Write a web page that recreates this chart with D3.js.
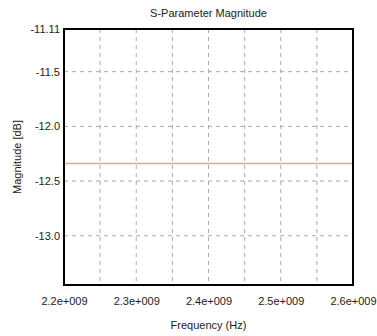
<!DOCTYPE html>
<html>
<head>
<meta charset="utf-8">
<script src="https://cdn.jsdelivr.net/npm/d3@7"></script>
<style>
    body { margin: 0; background: #fff; }
    text { font-family: "Liberation Sans", Arial, sans-serif; font-size: 11px; fill: #222; }
</style>
</head>
<body>
<svg id="chart" width="377" height="336"></svg>
<script>
/* Chart values */
let freqDomain = [2.2e9, 2.6e9];
let magDomain = [-13.45, -11.11];
let xTicks = [2.2e9, 2.3e9, 2.4e9, 2.5e9, 2.6e9];
let xGrid = [2.25e9, 2.3e9, 2.35e9, 2.4e9, 2.45e9, 2.5e9, 2.55e9];
let yTicks = [-11.11, -11.5, -12.0, -12.5, -13.0];
let yGrid = [-11.5, -12.0, -12.5, -13.0];
let freq = [2.2e9, 2.3e9, 2.4e9, 2.5e9, 2.6e9];
let mag = [-12.34, -12.34, -12.34, -12.34, -12.34];

let margin = {top: 29, right: 24, bottom: 51, left: 64};
let width = 377 - margin.left - margin.right;
let height = 336 - margin.top - margin.bottom;

let svg = d3.select('#chart');
let g = svg.append('g').attr('transform', `translate(${margin.left},${margin.top})`);

let x = d3.scaleLinear().domain(freqDomain).range([0, width]);
let y = d3.scaleLinear().domain(magDomain).range([height, 0]);

/* Dashed grid */
g.selectAll('.vgrid').data(xGrid).enter().append('line')
    .attr('x1', d => x(d)).attr('x2', d => x(d))
    .attr('y1', 0).attr('y2', height)
    .attr('stroke', '#aaa').attr('stroke-dasharray', '4,4');
g.selectAll('.hgrid').data(yGrid).enter().append('line')
    .attr('x1', 0).attr('x2', width)
    .attr('y1', d => y(d)).attr('y2', d => y(d))
    .attr('stroke', '#aaa').attr('stroke-dasharray', '4,4');

/* Data line */
g.append('path')
    .datum(freq.map((f, i) => [f, mag[i]]))
    .attr('fill', 'none')
    .attr('stroke', '#f49a9a')
    .attr('stroke-width', 1.5)
    .attr('d', d3.line().x(d => x(d[0])).y(d => y(d[1])));

/* Frame */
g.append('rect')
    .attr('x', 0).attr('y', 0)
    .attr('width', width).attr('height', height)
    .attr('fill', 'none').attr('stroke', '#000').attr('stroke-width', 2);

/* Axes: labels only, the frame draws the lines */
let xAxis = g.append('g')
    .attr('transform', `translate(0,${height})`)
    .call(d3.axisBottom(x).tickValues(xTicks).tickSize(0).tickPadding(12)
        .tickFormat(d => (d / 1e9).toFixed(1) + 'e+009'));
xAxis.select('.domain').remove();

let yAxis = g.append('g')
    .call(d3.axisLeft(y).tickValues(yTicks).tickSize(0).tickPadding(4)
        .tickFormat(d => d === -11.11 ? '-11.11' : d.toFixed(1)));
yAxis.select('.domain').remove();

svg.selectAll('.tick text')
    .style('font-family', '"Liberation Sans", Arial, sans-serif')
    .style('font-size', '11px')
    .attr('fill', '#222');

/* Titles */
svg.append('text')
    .attr('x', margin.left + width / 2).attr('y', 17)
    .attr('text-anchor', 'middle')
    .text('S-Parameter Magnitude');
svg.append('text')
    .attr('x', margin.left + width / 2).attr('y', 329)
    .attr('text-anchor', 'middle')
    .text('Frequency (Hz)');
svg.append('text')
    .attr('transform', `translate(21,${margin.top + height / 2}) rotate(-90)`)
    .attr('text-anchor', 'middle')
    .text('Magnitude [dB]');
</script>
</body>
</html>
